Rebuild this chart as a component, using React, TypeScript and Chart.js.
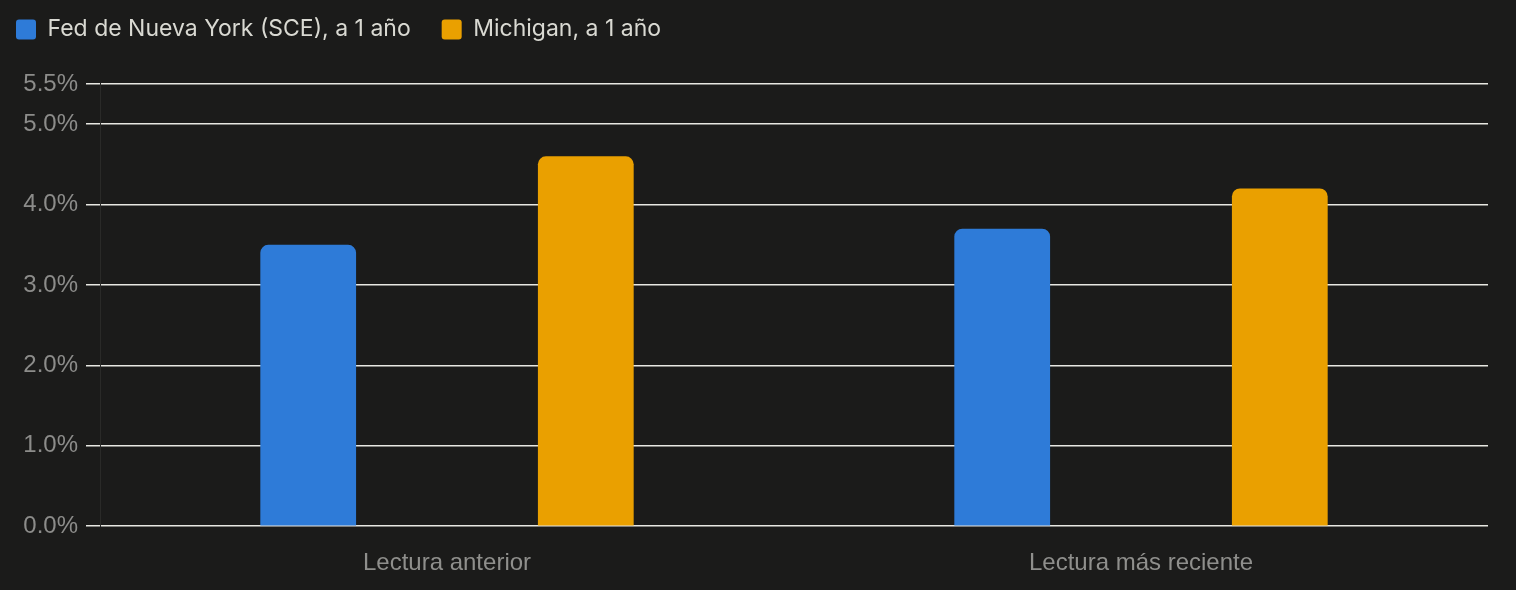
import React, { useEffect, useRef } from "react";
import { Chart, registerables } from "chart.js";

Chart.register(...registerables);

const categories = ["Lectura anterior", "Lectura más reciente"];
const fedNY = [3.5, 3.7];
const michigan = [4.6, 4.2];
const yTicks = [0, 1, 2, 3, 4, 5, 5.5];
const seriesLabels = ["Fed de Nueva York (SCE), a 1 año", "Michigan, a 1 año"];

const legendHeightPlugin = {
  id: "legendHeight",
  beforeLayout(chart: any) {
    const lg = chart.legend;
    if (lg && !lg.__patched) {
      const orig = lg.fit.bind(lg);
      lg.fit = function () {
        orig();
        this.height = 97;
      };
      lg.__patched = true;
    }
  },
};

export default function App() {
  const ref = useRef<HTMLCanvasElement | null>(null);

  useEffect(() => {
    document.body.style.margin = "0";
    document.body.style.background = "#1b1b1a";
    const canvas = ref.current!;
    const chart = new Chart(canvas, {
      type: "bar",
      data: {
        labels: categories,
        datasets: [
          {
            label: seriesLabels[0],
            data: fedNY,
            backgroundColor: "#2e7bd8",
            borderWidth: 0,
            borderRadius: { topLeft: 8, topRight: 8, bottomLeft: 0, bottomRight: 0 },
            borderSkipped: false,
          },
          {
            label: seriesLabels[1],
            data: michigan,
            backgroundColor: "#eaa000",
            borderWidth: 0,
            borderRadius: { topLeft: 8, topRight: 8, bottomLeft: 0, bottomRight: 0 },
            borderSkipped: false,
          },
        ],
      },
      plugins: [legendHeightPlugin],
      options: {
        animation: false,
        responsive: false,
        devicePixelRatio: 1,
        datasets: { bar: { categoryPercentage: 0.8, barPercentage: 0.345 } },
        layout: { padding: { left: -15, right: 28, top: -13, bottom: -11 } },
        plugins: {
          legend: {
            display: true,
            align: "start",
            labels: {
              color: "#d9d9d2",
              font: { family: "Inter", size: 23 },
              boxWidth: 20,
              boxHeight: 20,
              useBorderRadius: true,
              borderRadius: 3,
              padding: 31,
            },
          },
          tooltip: { enabled: false },
        },
        scales: {
          x: {
            grid: { display: false, drawTicks: false },
            border: { display: false },
            ticks: {
              color: "#8f8f8c",
              font: { family: "Liberation Sans", size: 24 },
              padding: 23,
            },
          },
          y: {
            min: 0,
            max: 5.5,
            afterBuildTicks: (axis: any) => {
              axis.ticks = yTicks.map((v) => ({ value: v }));
            },
            afterFit: (axis: any) => {
              axis.width = 115;
            },
            grid: {
              color: "#e8e8e2",
              lineWidth: 1.5,
              drawTicks: true,
              tickLength: 14,
            },
            border: { display: true, color: "#2a2a28", width: 1 },
            ticks: {
              color: "#8c8c8a",
              font: { family: "Liberation Sans", size: 24 },
              padding: 8,
              callback: (v: any) => Number(v).toFixed(1) + "%",
            },
          },
        },
      },
    });
    return () => chart.destroy();
  }, []);

  return (
    <div style={{ width: 1516, height: 590, background: "#1b1b1a" }}>
      <canvas ref={ref} width={1516} height={590} style={{ display: "block" }} />
    </div>
  );
}
